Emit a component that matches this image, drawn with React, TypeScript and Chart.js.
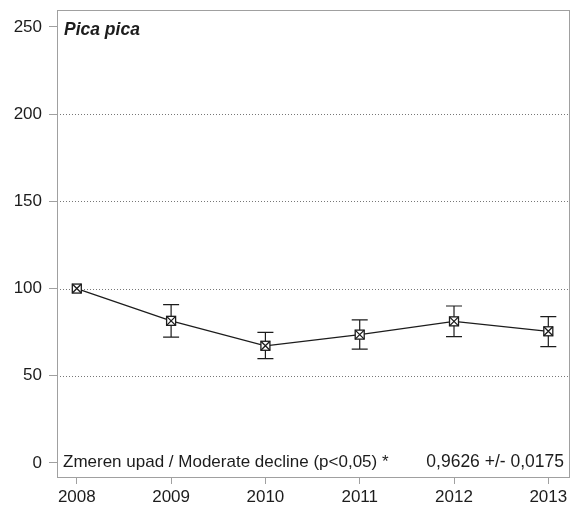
import React, { useEffect, useRef } from "react";
import { Chart, registerables } from "chart.js";

Chart.register(...registerables);

const years = [2008, 2009, 2010, 2011, 2012, 2013];
const index = [100, 81.5, 67.2, 73.6, 81.2, 75.5];
const upper = [100, 90.8, 74.9, 82.0, 90.0, 83.9];
const lower = [100, 72.2, 59.8, 65.3, 72.4, 66.7];
const yTicks = [0, 50, 100, 150, 200, 250];
const gridValues = [50, 100, 150, 200];
const title = "Pica pica";
const trendLeft = "Zmeren upad / Moderate decline (p<0,05) *";
const trendRight = "0,9626 +/- 0,0175";

const FONT = "'Liberation Sans', Arial, sans-serif";
const INK = "#1c1c1c";

const gridPlugin = {
  id: "dottedGrid",
  beforeDatasetsDraw(chart: any) {
    const { ctx, chartArea: a, scales } = chart;
    ctx.save();
    ctx.strokeStyle = "#777";
    ctx.lineWidth = 1;
    ctx.setLineDash([1, 2]);
    gridValues.forEach((v) => {
      const y = Math.round(scales.y.getPixelForValue(v)) + 0.5;
      ctx.beginPath();
      ctx.moveTo(a.left, y);
      ctx.lineTo(a.right, y);
      ctx.stroke();
    });
    ctx.restore();
  },
};

const overlay = {
  id: "overlay",
  afterDatasetsDraw(chart: any) {
    const { ctx, chartArea: a, scales } = chart;
    const xs = scales.x;
    const ys = scales.y;
    ctx.save();
    // box
    ctx.strokeStyle = "#a0a0a0";
    ctx.lineWidth = 1;
    ctx.strokeRect(a.left + 0.5, a.top + 0.5, a.right - a.left - 1, a.bottom - a.top - 1);
    // error bars
    ctx.strokeStyle = INK;
    ctx.lineWidth = 1.2;
    years.forEach((yr, i) => {
      if (upper[i] === lower[i]) return;
      const x = xs.getPixelForValue(yr);
      const t = ys.getPixelForValue(upper[i]);
      const b = ys.getPixelForValue(lower[i]);
      ctx.beginPath();
      ctx.moveTo(x, t);
      ctx.lineTo(x, b);
      ctx.moveTo(x - 8, t);
      ctx.lineTo(x + 8, t);
      ctx.moveTo(x - 8, b);
      ctx.lineTo(x + 8, b);
      ctx.stroke();
    });
    // markers
    years.forEach((yr, i) => {
      const x = xs.getPixelForValue(yr);
      const y = ys.getPixelForValue(index[i]);
      const h = 4.5;
      ctx.fillStyle = "#fff";
      ctx.fillRect(x - h, y - h, 2 * h, 2 * h);
      ctx.lineWidth = 1.3;
      ctx.strokeStyle = INK;
      ctx.strokeRect(x - h, y - h, 2 * h, 2 * h);
      ctx.beginPath();
      ctx.moveTo(x - h, y - h);
      ctx.lineTo(x + h, y + h);
      ctx.moveTo(x + h, y - h);
      ctx.lineTo(x - h, y + h);
      ctx.stroke();
    });
    // texts
    ctx.fillStyle = INK;
    ctx.textBaseline = "alphabetic";
    ctx.font = `italic bold 17.5px ${FONT}`;
    ctx.textAlign = "left";
    ctx.fillText(title, a.left + 7, a.top + 25);
    ctx.font = `17px ${FONT}`;
    ctx.fillText(trendLeft, a.left + 6, 467);
    ctx.font = `17.5px ${FONT}`;
    ctx.textAlign = "right";
    ctx.fillText(trendRight, a.right - 6, 467);
    ctx.restore();
  },
};

export default function App() {
  const ref = useRef<HTMLCanvasElement>(null);
  useEffect(() => {
    document.body.style.margin = "0";
    const chart = new Chart(ref.current!, {
      type: "line",
      data: {
        datasets: [
          {
            data: years.map((y, i) => ({ x: y, y: index[i] })),
            borderColor: INK,
            borderWidth: 1.2,
            pointRadius: 0,
            tension: 0,
          },
        ],
      },
      options: {
        animation: false,
        responsive: false,
        maintainAspectRatio: false,
        layout: { padding: { top: 10, right: 6, left: 0, bottom: 0 } },
        plugins: { legend: { display: false }, tooltip: { enabled: false } },
        scales: {
          x: {
            type: "linear",
            min: 2007.79,
            max: 2013.23,
            afterBuildTicks: (s: any) => {
              s.ticks = years.map((v) => ({ value: v }));
            },
            afterFit: (s: any) => {
              s.height = 32;
              s.paddingLeft = 0;
              s.paddingRight = 0;
            },
            border: { display: false },
            grid: {
              drawOnChartArea: false,
              drawTicks: true,
              tickLength: 6,
              tickColor: "#a0a0a0",
            },
            ticks: {
              autoSkip: false,
              maxRotation: 0,
              padding: 3,
              color: INK,
              font: { family: FONT, size: 17 },
              callback: (v: any) => String(v),
            },
          },
          y: {
            type: "linear",
            min: -8.6,
            max: 259.7,
            afterBuildTicks: (s: any) => {
              s.ticks = yTicks.map((v) => ({ value: v }));
            },
            afterFit: (s: any) => {
              s.width = 57;
              s.paddingTop = 0;
              s.paddingBottom = 0;
            },
            border: { display: false },
            grid: {
              drawOnChartArea: false,
              drawTicks: true,
              tickLength: 8,
              tickColor: "#a0a0a0",
            },
            ticks: {
              padding: 7,
              color: INK,
              font: { family: FONT, size: 17 },
              callback: (v: any) => String(v),
            },
          },
        },
      },
      plugins: [gridPlugin, overlay],
    });
    return () => chart.destroy();
  }, []);
  return (
    <div style={{ width: 576, height: 510, background: "#fff" }}>
      <canvas ref={ref} width={576} height={510} />
    </div>
  );
}
